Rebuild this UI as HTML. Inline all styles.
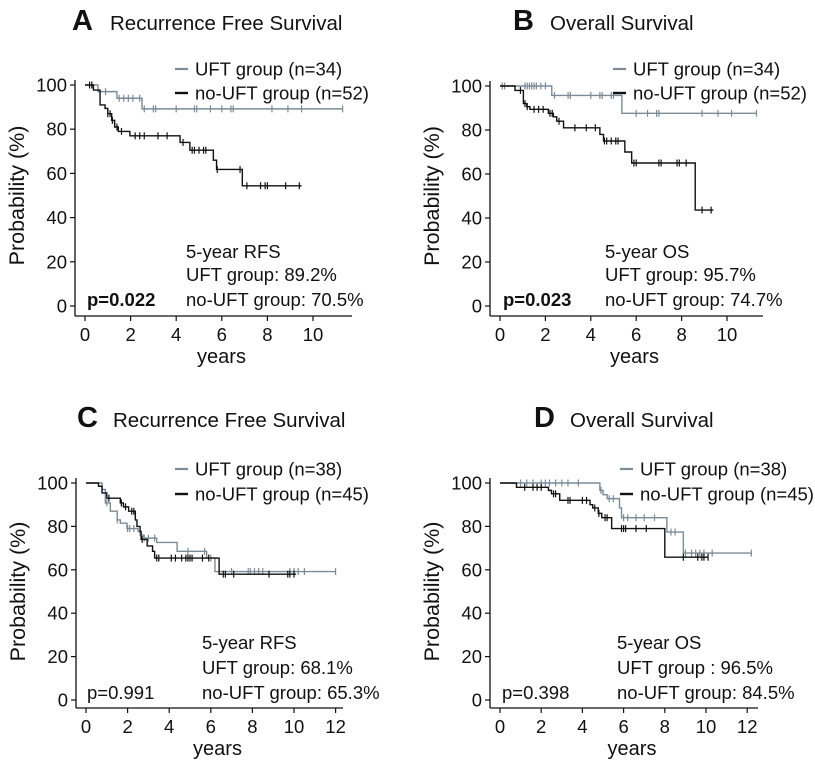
<!DOCTYPE html>
<html><head><meta charset="utf-8">
<style>
body{margin:0;background:#fff;}
svg{display:block;font-family:"Liberation Sans",Arial,sans-serif;}
</style></head>
<body>
<svg id="fig" width="815" height="770" viewBox="0 0 815 770" xmlns="http://www.w3.org/2000/svg"></svg>
<script>
// ---- Data (time in years, survival in %) ----
const aUftT = [0, 0.57, 1.4, 2.5, 11.3];
const aUftS = [100, 97, 94, 89.2, 89.2];
const aUftC = [0.3, 0.9, 1.5, 1.7, 1.9, 2.1, 2.4, 2.6, 3.0, 3.1, 4.0, 4.8, 4.9, 5.5, 6.0, 6.4, 6.5, 8.2, 8.9, 9.5, 11.3];
const aNoT = [0, 0.37, 0.66, 0.88, 1.0, 1.17, 1.3, 1.46, 1.97, 4.17, 4.6, 5.63, 5.77, 6.9, 9.5];
const aNoS = [100, 97.7, 91, 89.4, 87, 84, 81, 79, 77, 74, 70.5, 66, 61.8, 54.4, 54.4];
const aNoC = [0.2, 0.3, 1.0, 1.1, 1.2, 1.4, 1.6, 2.2, 2.4, 2.6, 3.2, 3.6, 4.3, 4.7, 4.8, 5.0, 5.2, 5.3, 5.8, 6.8, 7.1, 7.7, 7.9, 8.0, 8.8, 9.4];
const bUftT = [0, 2.28, 5.37, 11.3];
const bUftS = [100, 95.7, 87.6, 87.6];
const bUftC = [0.1, 0.2, 1.1, 1.2, 1.3, 1.4, 1.5, 1.6, 1.8, 2.0, 2.4, 3.0, 3.1, 4.0, 4.4, 4.5, 4.9, 5.0, 6.0, 6.5, 6.9, 7.0, 8.9, 9.6, 10.2, 11.3];
const bNoT = [0, 0.66, 1.03, 1.18, 1.32, 2.13, 2.35, 2.5, 2.8, 4.4, 4.56, 5.5, 5.8, 8.6, 9.4];
const bNoS = [100, 98, 92, 90.6, 89.4, 87.6, 86, 84, 81, 78, 75, 70, 65, 43.6, 43.6];
const bNoC = [0.9, 1.1, 1.2, 1.5, 1.7, 1.9, 2.2, 2.3, 2.6, 3.3, 3.8, 4.2, 4.6, 4.7, 4.9, 5.1, 5.2, 5.9, 6.0, 7.0, 7.1, 7.8, 7.9, 8.2, 8.9, 9.3];
const cUftT = [0, 0.77, 0.93, 1.17, 1.5, 1.65, 1.97, 2.5, 2.6, 2.78, 3.4, 4.38, 5.8, 6.2, 12.0];
const cUftS = [100, 97, 90.8, 87, 83, 81.5, 79, 77.7, 76, 74.6, 72.6, 68.5, 65.4, 59.2, 59.2];
const cUftC = [1.0, 1.5, 2.0, 2.1, 2.3, 2.8, 3.0, 3.3, 4.9, 5.7, 6.0, 7.0, 7.8, 7.9, 8.1, 8.3, 8.5, 9.8, 10.0, 10.2, 10.5, 12.0];
const cNoT = [0, 0.6, 0.77, 1.0, 1.65, 1.8, 2.05, 2.37, 2.45, 2.6, 2.65, 2.94, 3.2, 3.3, 6.4, 10.1];
const cNoS = [100, 98.5, 95.4, 93, 90.8, 89, 87, 83, 80, 77.7, 74, 71, 68.5, 65.4, 58, 58];
const cNoC = [1.1, 1.7, 1.9, 2.2, 2.3, 2.7, 3.4, 3.5, 4.1, 4.3, 4.6, 4.8, 4.9, 5.0, 5.1, 5.6, 5.9, 6.6, 6.7, 7.1, 8.8, 9.7, 9.8, 10.0];
const dUftT = [0, 4.85, 5.0, 5.2, 5.8, 5.9, 8.1, 8.9, 12.2];
const dUftS = [100, 96.6, 94.6, 92.8, 88.5, 84, 77.4, 67.7, 67.7];
const dUftC = [1.0, 1.3, 1.6, 2.0, 2.2, 2.4, 2.7, 3.0, 3.3, 3.8, 4.9, 5.3, 5.5, 6.0, 6.2, 6.6, 7.0, 7.5, 8.3, 8.5, 9.0, 9.3, 9.5, 9.7, 9.9, 10.3, 12.2];
const dNoT = [0, 0.8, 2.35, 2.5, 2.9, 4.37, 4.5, 4.77, 4.94, 5.42, 8.0, 10.1];
const dNoS = [100, 98, 96.6, 95, 92, 90, 88.5, 86, 84, 79, 65.8, 65.8];
const dNoC = [1.2, 1.6, 1.8, 2.0, 2.6, 2.7, 3.3, 3.4, 4.0, 4.2, 4.6, 4.8, 5.1, 5.2, 5.9, 6.0, 6.1, 6.6, 7.1, 8.9, 9.6, 9.8, 9.9, 10.1];
const xTicksA = [0, 2, 4, 6, 8, 10];
const xTicksC = [0, 2, 4, 6, 8, 10, 12];
const yTicks = [0, 20, 40, 60, 80, 100];

const NS = "http://www.w3.org/2000/svg";
const svg = document.getElementById('fig');
const GRAY = '#7b8b98';
function mk(tag, attrs, parent){
  const e = document.createElementNS(NS, tag);
  for (const k in attrs) e.setAttribute(k, attrs[k]);
  (parent || svg).appendChild(e);
  return e;
}
function txt(s, x, y, size, opts, parent){
  const e = mk('text', {x:x, y:y, 'font-size':size, fill:'#111'}, parent);
  if (opts) for (const k in opts) e.setAttribute(k, opts[k]);
  e.textContent = s;
  return e;
}

const panels = [
  {key:'a', letter:'A', title:'Recurrence Free Survival', lx:72, tx:110, ty:30,
   ax:75, x0:85, pxPerYear:22.8, yTop:85, yBot:306, axisY:316, axisEnd:352, xTicks:xTicksA,
   legX:175, legY1:69, legY2:93, n1:'34', n2:'52',
   ann:['5-year RFS','UFT group: 89.2%','no-UFT group: 70.5%'], annX:186, annY:[258,281,306],
   p:'p=0.022', pBold:true, pX:87,
   uT:aUftT,uS:aUftS,uC:aUftC,nT:aNoT,nS:aNoS,nC:aNoC},
  {key:'b', letter:'B', title:'Overall Survival', lx:513, tx:550, ty:30,
   ax:490, x0:500, pxPerYear:22.7, yTop:86, yBot:306, axisY:316, axisEnd:763, xTicks:xTicksA,
   legX:613, legY1:69, legY2:93, n1:'34', n2:'52',
   ann:['5-year OS','UFT group: 95.7%','no-UFT group: 74.7%'], annX:605, annY:[258,281,306],
   p:'p=0.023', pBold:true, pX:503,
   uT:bUftT,uS:bUftS,uC:bUftC,nT:bNoT,nS:bNoS,nC:bNoC},
  {key:'c', letter:'C', title:'Recurrence Free Survival', lx:77, tx:113, ty:427,
   ax:76, x0:86, pxPerYear:20.8, yTop:483, yBot:700, axisY:708, axisEnd:343, xTicks:xTicksC,
   legX:175, legY1:469, legY2:494, n1:'38', n2:'45',
   ann:['5-year RFS','UFT group: 68.1%','no-UFT group: 65.3%'], annX:202, annY:[649,674,699],
   p:'p=0.991', pBold:false, pX:87,
   uT:cUftT,uS:cUftS,uC:cUftC,nT:cNoT,nS:cNoS,nC:cNoC},
  {key:'d', letter:'D', title:'Overall Survival', lx:534, tx:570, ty:427,
   ax:490, x0:500, pxPerYear:20.6, yTop:483, yBot:700, axisY:708, axisEnd:758, xTicks:xTicksC,
   legX:620, legY1:469, legY2:494, n1:'38', n2:'45',
   ann:['5-year OS','UFT group : 96.5%','no-UFT group: 84.5%'], annX:617, annY:[649,674,699],
   p:'p=0.398', pBold:false, pX:502,
   uT:dUftT,uS:dUftS,uC:dUftC,nT:dNoT,nS:dNoS,nC:dNoC}
];

function stepPath(T, S, xs, ys){
  let d = 'M' + xs(T[0]) + ',' + ys(S[0]);
  for (let i = 1; i < T.length; i++){
    d += ' H' + xs(T[i]) + ' V' + ys(S[i]);
  }
  return d;
}
function survAt(T, S, t){
  let v = S[0];
  for (let i = 0; i < T.length; i++){ if (T[i] <= t) v = S[i]; }
  return v;
}

panels.forEach(P => {
  const g = mk('g', {});
  
  
  const xs = t => P.x0 + t * P.pxPerYear;
  const ys = v => P.yBot - v / 100 * (P.yBot - P.yTop);

  const L = txt(P.letter, P.lx, P.ty, 29, {'font-weight':'bold'}, g);
  
  
  const T = txt(P.title, P.tx, P.ty, 20.5, {}, g);
  
  

  const ya = mk('line', {x1:P.ax, y1:P.yTop-5, x2:P.ax, y2:P.axisY, stroke:'#111','stroke-width':1.3}, g);
  
  
  const xa = mk('line', {x1:P.ax, y1:P.axisY, x2:P.axisEnd, y2:P.axisY, stroke:'#111','stroke-width':1.3}, g);
  
  

  yTicks.forEach(v => {
    const y = ys(v);
    mk('line', {x1:P.ax-5, y1:y, x2:P.ax, y2:y, stroke:'#111','stroke-width':1.2}, g);
    const t = txt(String(v), P.ax-8, y+6.5, 18.5, {'text-anchor':'end'}, g);
    
    
  });
  P.xTicks.forEach(v => {
    const x = xs(v);
    mk('line', {x1:x, y1:P.axisY, x2:x, y2:P.axisY+5, stroke:'#111','stroke-width':1.2}, g);
    const t = txt(String(v), x, P.axisY+25, 18.5, {'text-anchor':'middle'}, g);
    
    
  });
  const xt = txt('years', (P.ax + P.axisEnd)/2 + 8, P.axisY+47, 20, {'text-anchor':'middle'}, g);
  
  
  const cy = (P.yTop + P.yBot)/2;
  const tx = P.ax - 51;
  const yt = txt('Probability (%)', tx, cy, 21.5, {'text-anchor':'middle', transform:'rotate(-90 ' + tx + ' ' + cy + ')'}, g);
  
  

  const series = [
    {T:P.uT, S:P.uS, C:P.uC, col:GRAY, name:'uft'},
    {T:P.nT, S:P.nS, C:P.nC, col:'#111', name:'no-uft'}
  ];
  series.forEach(s => {
    const path = mk('path', {d:stepPath(s.T, s.S, xs, ys), fill:'none', stroke:s.col, 'stroke-width':1.4}, g);
    
    
    s.C.forEach(c => {
      const x = xs(c), y = ys(survAt(s.T, s.S, c));
      const m = mk('line', {x1:x, y1:y-3.5, x2:x, y2:y+3.5, stroke:s.col, 'stroke-width':1.2}, g);
      
      
    });
  });

  const l1 = mk('line', {x1:P.legX, y1:P.legY1, x2:P.legX+13, y2:P.legY1, stroke:GRAY, 'stroke-width':2.2}, g);
  
  
  const lt1 = txt('UFT group (n=' + P.n1 + ')', P.legX+20, P.legY1+6.5, 18.5, {}, g);
  
  
  const l2 = mk('line', {x1:P.legX, y1:P.legY2, x2:P.legX+13, y2:P.legY2, stroke:'#111', 'stroke-width':2.4}, g);
  
  
  const lt2 = txt('no-UFT group (n=' + P.n2 + ')', P.legX+20, P.legY2+6.5, 18.5, {}, g);
  
  

  P.ann.forEach((s, i) => {
    const a = txt(s, P.annX, P.annY[i], 18.5, {}, g);
    
    
  });
  const p = txt(P.p, P.pX, P.annY[2], 18.5, P.pBold ? {'font-weight':'bold'} : {}, g);
  
  
});
</script>
</body></html>
